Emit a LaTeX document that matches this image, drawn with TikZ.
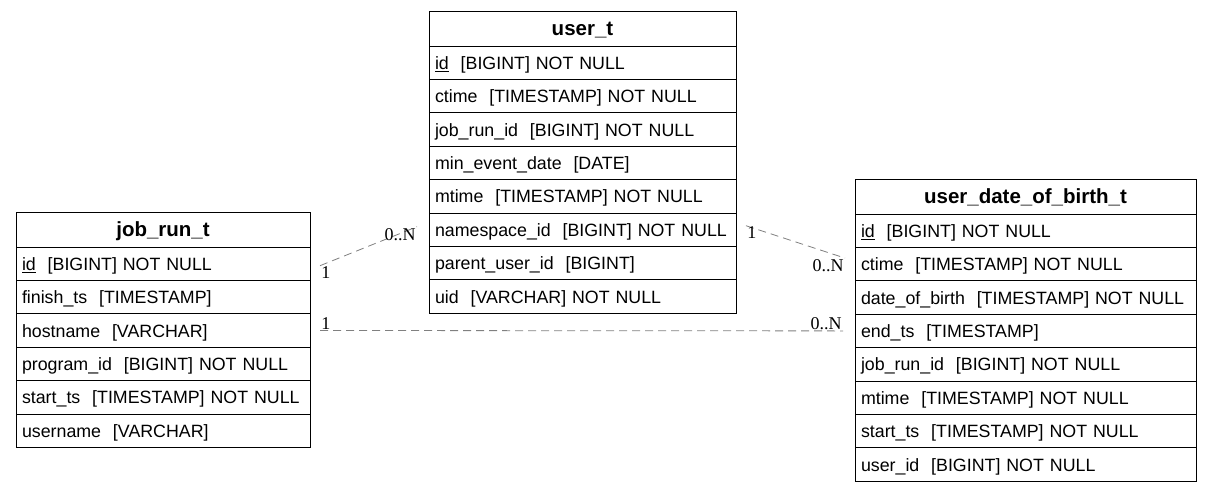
\documentclass[tikz,border=0pt]{standalone}
\usepackage{fontspec}
\setmainfont{Liberation Sans}
\newfontfamily\cardfont{Liberation Serif}
\usetikzlibrary{positioning,calc}
\definecolor{InkBlack}{HTML}{000000}
\definecolor{EdgeGray}{HTML}{808080}
\definecolor{White}{HTML}{FFFFFF}

\begin{document}
\begin{tikzpicture}[x=1pt,y=-1pt,
  tblhead/.style={draw=InkBlack,line width=1pt,outer sep=0pt,anchor=north west,
    minimum width=#1,minimum height=35pt,inner sep=0pt,text height=15pt,text depth=1pt,
    font=\bfseries\fontsize{20.5}{24}\selectfont},
  tblrow/.style={draw=InkBlack,line width=1pt,outer sep=0pt,anchor=north west,
    text width={#1-12pt},minimum height=33.4pt,inner xsep=6pt,inner ysep=0pt,
    text height=14pt,text depth=1pt,
    align=left,font=\fontsize{17.8}{21}\selectfont},
  fk/.style={draw=EdgeGray,dash pattern=on 8pt off 5pt,line width=0.8pt},
  card/.style={font=\cardfont\fontsize{18}{20}\selectfont,inner sep=1pt,text=InkBlack}]
  \useasboundingbox[fill=White] (0,0) rectangle (1211,491);

  % user_t
  \node[tblhead=307pt] (user-0) at (429,11) {user\_t};
  \foreach \txt [count=\i] in {\underline{id}\ \ [BIGINT] NOT NULL,
      ctime\ \ [TIMESTAMP] NOT NULL,
      job\_run\_id\ \ [BIGINT] NOT NULL,
      min\_event\_date\ \ [DATE],
      mtime\ \ [TIMESTAMP] NOT NULL,
      namespace\_id\ \ [BIGINT] NOT NULL,
      parent\_user\_id\ \ [BIGINT],
      uid\ \ [VARCHAR] NOT NULL} {
    \node[tblrow=307pt] (user-\i) at (429,{46+(\i-1)*33.4}) {\mbox{\txt}};
  }

  % job_run_t
  \node[tblhead=294pt] (job-0) at (16,212) {job\_run\_t};
  \foreach \txt [count=\i] in {\underline{id}\ \ [BIGINT] NOT NULL,
      finish\_ts\ \ [TIMESTAMP],
      hostname\ \ [VARCHAR],
      program\_id\ \ [BIGINT] NOT NULL,
      start\_ts\ \ [TIMESTAMP] NOT NULL,
      username\ \ [VARCHAR]} {
    \node[tblrow=294pt] (job-\i) at (16,{247+(\i-1)*33.4}) {\mbox{\txt}};
  }

  % user_date_of_birth_t
  \node[tblhead=341pt] (dob-0) at (855,179) {user\_date\_of\_birth\_t};
  \foreach \txt [count=\i] in {\underline{id}\ \ [BIGINT] NOT NULL,
      ctime\ \ [TIMESTAMP] NOT NULL,
      date\_of\_birth\ \ [TIMESTAMP] NOT NULL,
      end\_ts\ \ [TIMESTAMP],
      job\_run\_id\ \ [BIGINT] NOT NULL,
      mtime\ \ [TIMESTAMP] NOT NULL,
      start\_ts\ \ [TIMESTAMP] NOT NULL,
      user\_id\ \ [BIGINT] NOT NULL} {
    \node[tblrow=341pt] (dob-\i) at (855,{214+(\i-1)*33.4}) {\mbox{\txt}};
  }

  % relations
  \draw[fk] ([xshift=10pt,yshift=-2pt]job-1.east) node[card,below right] {1}
    -- ([xshift=-12pt,yshift=3pt]user-6.west) node[card,below left] {0..N};
  \draw[fk] ([xshift=10pt]job-3.east) node[card,above right] {1}
    -- ([xshift=-12pt]dob-4.west) node[card,above left] {0..N};
  \draw[fk] ([xshift=10pt,yshift=4pt]user-6.east) node[card,below right] {1}
    -- ([xshift=-10pt,yshift=6pt]dob-2.west) node[card,below left] {0..N};
\end{tikzpicture}
\end{document}
